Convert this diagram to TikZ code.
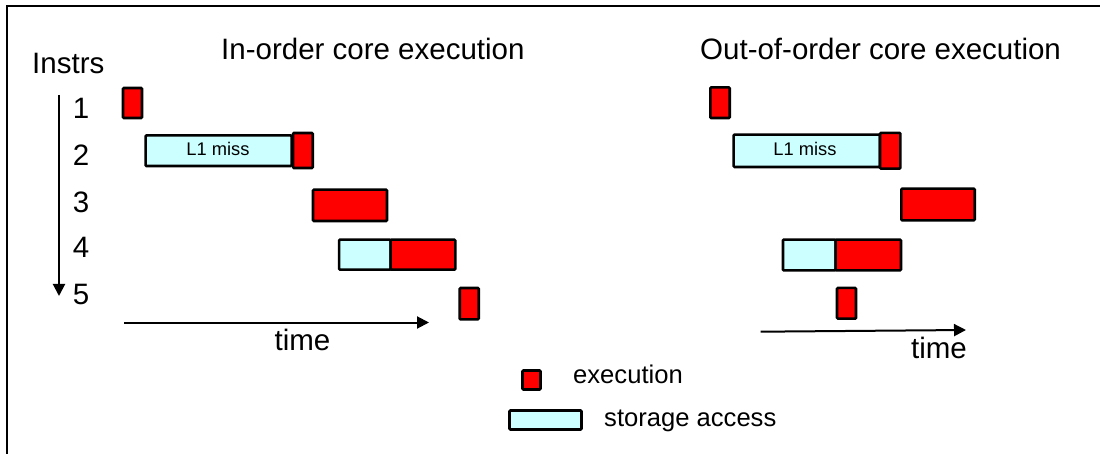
\documentclass[tikz,border=0pt]{standalone}
\usepackage{fontspec}
\setmainfont{Liberation Sans}
\usetikzlibrary{arrows.meta}
\begin{document}
\begin{tikzpicture}[x=1pt,y=-1pt,
  exbox/.style={draw=black,line width=2.6pt,fill=red,rounded corners=1pt,inner sep=0pt},
  stbox/.style={draw=black,line width=2.6pt,fill={rgb,255:red,204;green,255;blue,255},rounded corners=1pt,inner sep=0pt},
  big/.style={font=\fontsize{29.5}{32}\selectfont,inner sep=0pt},
  leg/.style={font=\fontsize{25.6}{28}\selectfont,inner sep=0pt},
  small/.style={font=\fontsize{18.3}{21}\selectfont,inner sep=0pt},
  axis/.style={line width=2pt,-{Triangle[length=12pt,width=12pt]}},
  frame/.style={line width=2pt}]
\useasboundingbox (0,0) rectangle (1100,454);
% frame
\coordinate (ftr) at (1100,6);
\coordinate (ftl) at (7,6);
\coordinate (fbl) at (7,454);
\draw[frame] (ftr) -- (ftl) -- (fbl);
% titles
\node[big,anchor=base west] (t1) at (221,60) {In-order core execution};
\node[big,anchor=base west] (t2) at (700,60) {Out-of-order core execution};
\node[big,anchor=base west] (instrs) at (32,73.3) {Instrs};
% numbers
\node[big,anchor=base] (n1) at (81,118.3) {1};
\node[big,anchor=base] (n2) at (81,166) {2};
\node[big,anchor=base] (n3) at (81,212.3) {3};
\node[big,anchor=base] (n4) at (81,257.3) {4};
\node[big,anchor=base] (n5) at (81,305) {5};
\coordinate (va) at (59,95);
\coordinate (vb) at (59,296);
\draw[axis] (va) -- (vb);
% left boxes
\node[exbox,minimum width=19pt,minimum height=30pt] (l1) at (132.5,103) {};
\node[stbox,minimum width=146pt,minimum height=30.7pt] (l2a) at (218.6,150.7) {};
\node[exbox,minimum width=19.7pt,minimum height=35pt] (l2b) at (302.9,150.5) {};
\node[small,anchor=base] (l2t) at (218,156) {L1 miss};
\node[exbox,minimum width=74pt,minimum height=31.4pt] (l3) at (350,205.3) {};
\node[stbox,minimum width=51.7pt,minimum height=30pt] (l4a) at (364.9,254.7) {};
\node[exbox,minimum width=64.7pt,minimum height=30pt] (l4b) at (423,254.7) {};
\node[exbox,minimum width=19pt,minimum height=31.4pt] (l5) at (469.2,303.7) {};
\coordinate (ta1) at (124,322.5);
\coordinate (tb1) at (429,322.5);
\draw[axis] (ta1) -- (tb1);
\node[big,anchor=base] (time1) at (302.5,350) {time};
% right boxes
\node[exbox,minimum width=19.4pt,minimum height=30.7pt] (r1) at (720,102.7) {};
\node[stbox,minimum width=146.4pt,minimum height=32.4pt] (r2a) at (806.8,150.8) {};
\node[exbox,minimum width=20.4pt,minimum height=35.7pt] (r2b) at (890.2,150.8) {};
\node[small,anchor=base] (r2t) at (805,156) {L1 miss};
\node[exbox,minimum width=73.4pt,minimum height=31.8pt] (r3) at (938,204.5) {};
\node[stbox,minimum width=52.7pt,minimum height=30.8pt] (r4a) at (809.3,255) {};
\node[exbox,minimum width=65.3pt,minimum height=30.8pt] (r4b) at (868.3,255) {};
\node[exbox,minimum width=19pt,minimum height=30.7pt] (r5) at (846.5,303.3) {};
\coordinate (ta2) at (760.7,331.7);
\coordinate (tb2) at (966,330);
\draw[axis] (ta2) -- (tb2);
\node[big,anchor=base] (time2) at (939,358.3) {time};
% legend
\node[exbox,minimum width=18pt,minimum height=19pt] (lg1) at (531.5,380) {};
\node[leg,anchor=base west] (lg1t) at (573,383) {execution};
\node[stbox,minimum width=72pt,minimum height=19pt] (lg2) at (545.5,420) {};
\node[leg,anchor=base west] (lg2t) at (604,426) {storage access};
\end{tikzpicture}
\end{document}
